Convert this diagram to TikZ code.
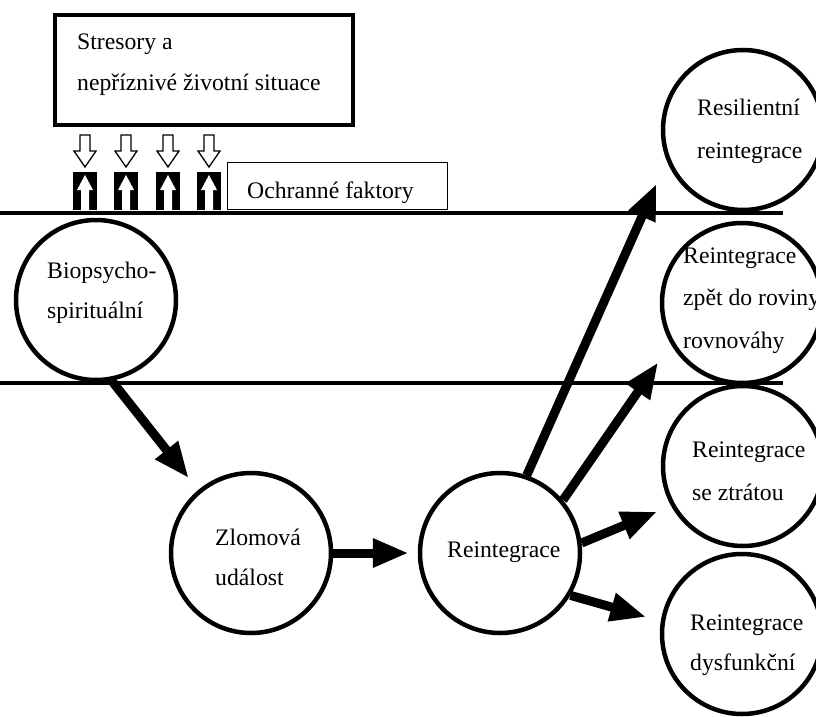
\documentclass[tikz,border=0pt]{standalone}
\usepackage{fontspec}
\setmainfont{Liberation Serif}
\usetikzlibrary{arrows.meta}

\begin{document}
\begin{tikzpicture}[x=1pt,y=-1pt,
  stage/.style={circle,draw,fill=white,line width=4.5pt,minimum size=160pt,inner sep=0pt},
  frame/.style={draw,line width=#1,inner sep=0pt},
  lbl/.style={font=\fontsize{23.7}{40}\selectfont,align=left,inner sep=0pt,anchor=base west},
  wide/.style={font=\fontsize{23.7}{42.5}\selectfont},
  flow/.style={line width=9pt,-{Triangle[length=36pt,width=27pt]}},
  rule/.style={line width=3.5pt}]
  \useasboundingbox (0,0) rectangle (816,717);

  % stressors and protective factors
  \node[frame=4pt,minimum width=298pt,minimum height=110pt] (stres) at (204,70) {};
  \node[frame=1.3pt,minimum width=220pt,minimum height=47pt] (prot) at (337.5,186) {};
  \foreach \x in {85,126,168,209}{
    \draw[line width=1.3pt,fill=white] (\x-5,135) -- (\x+5,135) -- (\x+5,151) -- (\x+11,151)
      -- (\x,167) -- (\x-11,151) -- (\x-5,151) -- cycle;
    \fill (\x-12,172) rectangle (\x+12,210);
    \fill[white] (\x-4,210) -- (\x-4,190) -- (\x-8,190) -- (\x,175) -- (\x+8,190)
      -- (\x+4,190) -- (\x+4,210) -- cycle;
  }

  % levels
  \draw[rule] (0,213) -- (783,213);
  \draw[rule] (0,383) -- (783,383);

  % stages
  \node[stage] (bio) at (96,300) {};
  \node[stage] (zlom) at (251,553) {};
  \node[stage] (reint) at (500,553) {};
  \node[stage] (res) at (743,130) {};
  \node[stage] (zpet) at (742,303) {};
  \node[stage] (ztr) at (743,466) {};
  \node[stage] (dys) at (742,634) {};

  \draw[flow,shorten >=15pt] (bio.-79) -- (zlom.130);
  \draw[flow,shorten >=9pt] (zlom) -- (reint);
  \draw[flow,shorten >=25pt] (reint.71) -- (res.-158);
  \draw[flow,shorten >=22pt] (reint.40) -- (zpet.-150);
  \draw[flow,shorten >=15pt] (reint.7) -- (ztr.-151);
  \draw[flow,shorten >=15pt] (reint.-31) -- (dys.171);

  % texts (anchored at the last line)
  \node[lbl] (stres-t) at (77,90) {Stresory a\\nepříznivé životní situace};
  \node[lbl] (prot-t) at (247,198) {Ochranné faktory};
  \node[lbl] (bio-t) at (47,318) {Biopsycho-\\spirituální};
  \node[lbl] (zlom-t) at (215,585) {Zlomová\\událost};
  \node[lbl] (reint-t) at (447,557) {Reintegrace};
  \node[lbl,wide] (res-t) at (697,158) {Resilientní\\reintegrace};
  \node[lbl,wide] (zpet-t) at (683,348) {Reintegrace\\zpět do roviny\\rovnováhy};
  \node[lbl,wide] (ztr-t) at (692,500) {Reintegrace\\se ztrátou};
  \node[lbl] (dys-t) at (690,670) {Reintegrace\\dysfunkční};
\end{tikzpicture}
\end{document}
